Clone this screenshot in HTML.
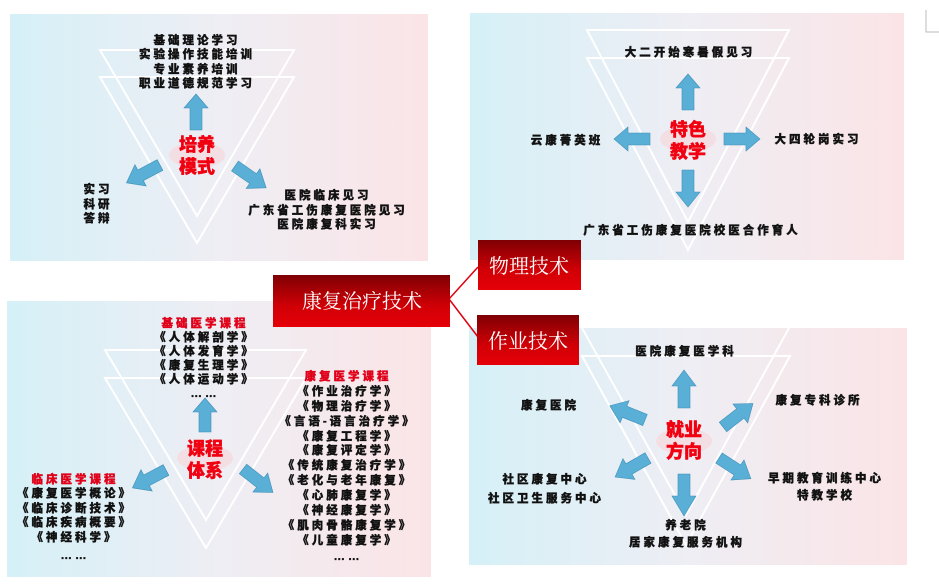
<!DOCTYPE html>
<html><head><meta charset="utf-8"><style>
html,body{margin:0;padding:0;background:#fff;}
svg{display:block;}
.t{font-family:"Liberation Sans","Noto Sans CJK SC",sans-serif;font-weight:900;font-size:11.5px;fill:#111;stroke:#111;stroke-width:0.35;letter-spacing:3px;text-anchor:middle;}
.r{fill:#e0001a;stroke:#e0001a;}
.c{font-family:"Liberation Sans","Noto Sans CJK SC",sans-serif;font-weight:900;font-size:18px;fill:#f00010;stroke:#f00010;stroke-width:0.4;text-anchor:middle;}
.w{font-family:"Liberation Serif","Noto Serif CJK SC",serif;font-size:20px;fill:#fff;text-anchor:middle;}
.tri{fill:none;stroke:#fff;stroke-width:2;}
.ar{fill:#5aafd6;stroke:#3f8fb8;stroke-width:0.6;}
</style></head><body>
<svg width="939" height="587" viewBox="0 0 939 587" xmlns="http://www.w3.org/2000/svg">
<defs>
<linearGradient id="g" x1="0" x2="1" y1="0" y2="0">
<stop offset="0" stop-color="#d5f0f7"/><stop offset="0.5" stop-color="#eeeef4"/><stop offset="1" stop-color="#fbe4e6"/>
</linearGradient>
<linearGradient id="rb" x1="0" x2="0" y1="0" y2="1">
<stop offset="0" stop-color="#7e0004"/><stop offset="0.6" stop-color="#d00006"/><stop offset="1" stop-color="#e60008"/>
</linearGradient>
</defs>

<!-- Panel 1 -->
<rect x="10" y="14" width="418" height="247" fill="url(#g)"/>
<polygon class="tri" points="100,50 294,50 197,216"/>
<polygon class="tri" points="100,77 294,77 197,243"/>
<text class="t" x="197" y="44">基础理论学习</text>
<text class="t" x="197" y="58">实验操作技能培训</text>
<text class="t" x="197" y="73">专业素养培训</text>
<text class="t" x="197" y="87">职业道德规范学习</text>
<ellipse cx="197" cy="155" rx="28" ry="13" fill="#f3dfe3"/>
<polygon class="ar" transform="translate(196,130) rotate(-90)" points="0,-6 22,-6 22,-12 36,0 22,12 22,6 0,6"/>
<polygon class="ar" transform="translate(160,165) rotate(152)" points="0,-6 22,-6 22,-12 38,0 22,12 22,6 0,6"/>
<polygon class="ar" transform="translate(235,166) rotate(35)" points="0,-6 22,-6 22,-12 38,0 22,12 22,6 0,6"/>
<text class="c" x="197" y="151">培养</text>
<text class="c" x="197" y="173">模式</text>
<text class="t" x="98" y="193">实习</text>
<text class="t" x="98" y="208">科研</text>
<text class="t" x="98" y="222">答辩</text>
<text class="t" x="328" y="199">医院临床见习</text>
<text class="t" x="328" y="214">广东省工伤康复医院见习</text>
<text class="t" x="328" y="228">医院康复科实习</text>

<!-- Panel 2 -->
<rect x="470" y="13" width="434" height="247" fill="url(#g)"/>
<polygon class="tri" points="587,30 789,30 688,222"/>
<polygon class="tri" points="587,58 789,58 688,250"/>
<text class="t" x="690" y="56">大二开始寒暑假见习</text>
<ellipse cx="688" cy="139" rx="28" ry="13" fill="#f3dfe3"/>
<polygon class="ar" transform="translate(688,110) rotate(-90)" points="0,-6 22,-6 22,-12 36,0 22,12 22,6 0,6"/>
<polygon class="ar" transform="translate(650,139) rotate(180)" points="0,-6 22,-6 22,-12 36,0 22,12 22,6 0,6"/>
<polygon class="ar" transform="translate(724,139)" points="0,-6 22,-6 22,-12 36,0 22,12 22,6 0,6"/>
<polygon class="ar" transform="translate(688,170) rotate(90)" points="0,-6 22,-6 22,-12 37,0 22,12 22,6 0,6"/>
<text class="c" x="688" y="136">特色</text>
<text class="c" x="688" y="158">教学</text>
<text class="t" x="567" y="144">云康菁英班</text>
<text class="t" x="818" y="143">大四轮岗实习</text>
<text class="t" x="692" y="234">广东省工伤康复医院校医合作育人</text>

<!-- Panel 3 -->
<rect x="7" y="301" width="424" height="276" fill="url(#g)"/>
<polygon class="tri" points="105,350 306,350 206,520"/>
<polygon class="tri" points="105,378 306,378 206,548"/>
<text class="t r" x="205" y="327">基础医学课程</text>
<text class="t" x="205" y="341">《人体解剖学》</text>
<text class="t" x="205" y="355">《人体发育学》</text>
<text class="t" x="205" y="369">《康复生理学》</text>
<text class="t" x="205" y="383">《人体运动学》</text>
<text class="t" x="205" y="397">……</text>
<ellipse cx="205" cy="458" rx="28" ry="13" fill="#f3dfe3"/>
<polygon class="ar" transform="translate(205,432) rotate(-90)" points="0,-6 20,-6 20,-12 34,0 20,12 20,6 0,6"/>
<polygon class="ar" transform="translate(166,470) rotate(152)" points="0,-6 22,-6 22,-12 38,0 22,12 22,6 0,6"/>
<polygon class="ar" transform="translate(243,469) rotate(38)" points="0,-6 22,-6 22,-12 38,0 22,12 22,6 0,6"/>
<text class="c" x="205" y="455">课程</text>
<text class="c" x="205" y="477">体系</text>
<text class="t r" x="75" y="483">临床医学课程</text>
<text class="t" x="75" y="497">《康复医学概论》</text>
<text class="t" x="75" y="512">《临床诊断技术》</text>
<text class="t" x="75" y="526">《临床疾病概要》</text>
<text class="t" x="75" y="541">《神经科学》</text>
<text class="t" x="75" y="559">……</text>
<text class="t r" x="348" y="380">康复医学课程</text>
<text class="t" x="348" y="395">《作业治疗学》</text>
<text class="t" x="348" y="410">《物理治疗学》</text>
<text class="t" x="348" y="425">《言语-语言治疗学》</text>
<text class="t" x="348" y="440">《康复工程学》</text>
<text class="t" x="348" y="454">《康复评定学》</text>
<text class="t" x="348" y="469">《传统康复治疗学》</text>
<text class="t" x="348" y="484">《老化与老年康复》</text>
<text class="t" x="348" y="499">《心肺康复学》</text>
<text class="t" x="348" y="514">《神经康复学》</text>
<text class="t" x="348" y="529">《肌肉骨骼康复学》</text>
<text class="t" x="348" y="544">《儿童康复学》</text>
<text class="t" x="348" y="560">……</text>

<!-- Panel 4 -->
<rect x="469" y="328" width="438" height="237" fill="url(#g)"/>
<polyline class="tri" points="582,328 686,515 789,328"/>
<polygon class="tri" points="582,356 790,356 686,545"/>
<text class="t" x="686" y="355">医院康复医学科</text>
<ellipse cx="684" cy="441" rx="28" ry="13" fill="#f3dfe3"/>
<polygon class="ar" transform="translate(684,408) rotate(-90)" points="0,-6 22,-6 22,-12 38,0 22,12 22,6 0,6"/>
<polygon class="ar" transform="translate(645,420) rotate(-158)" points="0,-6 22,-6 22,-12 38,0 22,12 22,6 0,6"/>
<polygon class="ar" transform="translate(723,427) rotate(-38)" points="0,-6 22,-6 22,-12 38,0 22,12 22,6 0,6"/>
<polygon class="ar" transform="translate(648,458) rotate(150)" points="0,-6 22,-6 22,-12 38,0 22,12 22,6 0,6"/>
<polygon class="ar" transform="translate(719,458) rotate(33)" points="0,-6 22,-6 22,-12 38,0 22,12 22,6 0,6"/>
<polygon class="ar" transform="translate(684,474) rotate(90)" points="0,-6 22,-6 22,-12 42,0 22,12 22,6 0,6"/>
<text class="c" x="684" y="436">就业</text>
<text class="c" x="684" y="458">方向</text>
<text class="t" x="550" y="409">康复医院</text>
<text class="t" x="819" y="404">康复专科诊所</text>
<text class="t" x="546" y="483">社区康复中心</text>
<text class="t" x="546" y="502">社区卫生服务中心</text>
<text class="t" x="826" y="482">早期教育训练中心</text>
<text class="t" x="826" y="499">特教学校</text>
<text class="t" x="687" y="529">养老院</text>
<text class="t" x="687" y="546">居家康复服务机构</text>

<!-- centre boxes -->
<line x1="449" y1="299" x2="478" y2="267" stroke="#e00010" stroke-width="1.5"/>
<line x1="449" y1="299" x2="478" y2="337" stroke="#e00010" stroke-width="1.5"/>
<rect x="273" y="275" width="177" height="52" fill="url(#rb)"/>
<text class="w" x="362" y="308">康复治疗技术</text>
<rect x="478" y="240" width="103" height="50" fill="url(#rb)"/>
<text class="w" x="529" y="273">物理技术</text>
<rect x="477" y="315" width="102" height="50" fill="url(#rb)"/>
<text class="w" x="528" y="348">作业技术</text>

<!-- corner mark -->
<polyline points="926,10 926,32 939,32" fill="none" stroke="#bbb" stroke-width="1"/>
</svg>
</body></html>
